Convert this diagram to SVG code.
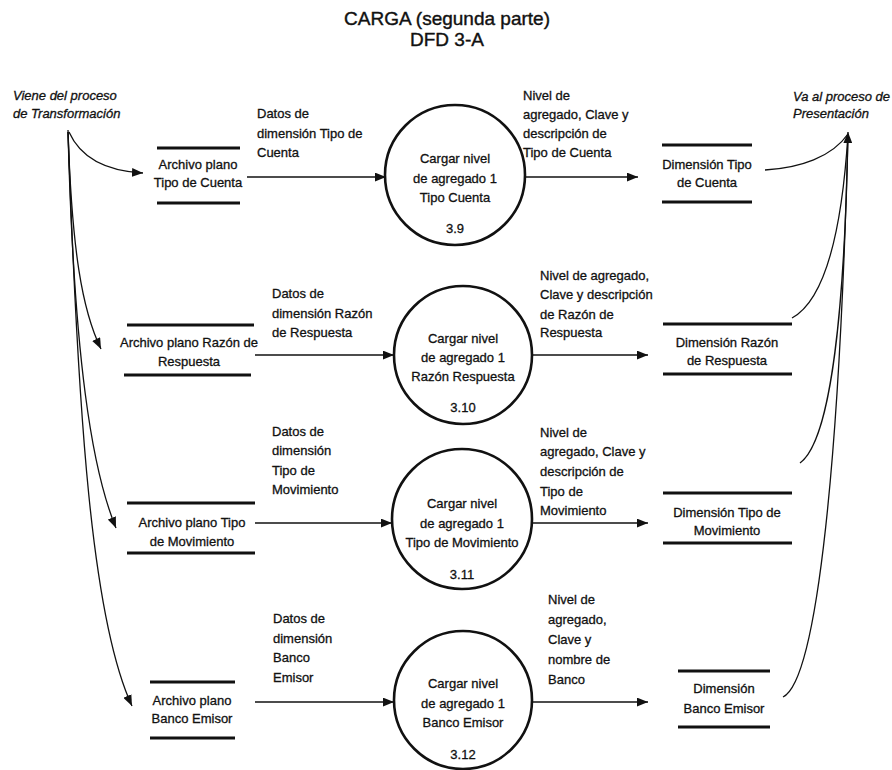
<svg xmlns="http://www.w3.org/2000/svg" width="892" height="770" viewBox="0 0 892 770">
  <style>
    text { font-family: "Liberation Sans", Arial, sans-serif; font-size: 13px; fill: #111; stroke: #111; stroke-width: 0.3; }
    .mid { text-anchor: middle; }
    .ext { font-style: italic; }
    .title { font-size: 19px; text-anchor: middle; stroke-width: 0.4; }
    .store line { stroke: #111; stroke-width: 2.8; }
    .proc circle { fill: none; stroke: #111; stroke-width: 2.6; }
    .flow path { fill: none; stroke: #111; stroke-width: 1.3; }
    .flow .arr { marker-end: url(#ah); }
  </style>
  <defs>
    <marker id="ah" viewBox="0 0 10 8" refX="10" refY="4" markerWidth="11" markerHeight="9" markerUnits="userSpaceOnUse" orient="auto">
      <path d="M0,0 L10,4 L0,8 z" fill="#111"/>
    </marker>
  </defs>
  <rect width="892" height="770" fill="#fff"/>

  <!-- title -->
  <g id="title">
    <text class="title" x="447" y="25">CARGA (segunda parte)</text>
    <text class="title" x="447" y="46">DFD 3-A</text>
  </g>

  <!-- external references -->
  <g id="ext-transformacion">
    <text class="ext" x="13" y="100">Viene del proceso</text>
    <text class="ext" x="13" y="118">de Transformación</text>
  </g>
  <g id="ext-presentacion">
    <text class="ext" x="793" y="101">Va al proceso de</text>
    <text class="ext" x="793" y="118">Presentación</text>
  </g>

  <!-- source flat files -->
  <g id="archivo-tipo-cuenta" class="store">
    <line x1="157" y1="148" x2="240" y2="148"/>
    <line x1="157" y1="203" x2="240" y2="203"/>
    <text class="mid" x="198" y="169">Archivo plano</text>
    <text class="mid" x="198" y="187">Tipo de Cuenta</text>
  </g>
  <g id="archivo-razon-respuesta" class="store">
    <line x1="127" y1="325" x2="254" y2="325"/>
    <line x1="124" y1="375" x2="251" y2="375"/>
    <text class="mid" x="189" y="347">Archivo plano Razón de</text>
    <text class="mid" x="189" y="366">Respuesta</text>
  </g>
  <g id="archivo-tipo-movimiento" class="store">
    <line x1="127" y1="503" x2="255" y2="503"/>
    <line x1="127" y1="553" x2="255" y2="553"/>
    <text class="mid" x="192" y="527">Archivo plano Tipo</text>
    <text class="mid" x="192" y="546">de Movimiento</text>
  </g>
  <g id="archivo-banco-emisor" class="store">
    <line x1="150" y1="682" x2="235" y2="682"/>
    <line x1="150" y1="738" x2="235" y2="738"/>
    <text class="mid" x="192" y="705">Archivo plano</text>
    <text class="mid" x="192" y="723">Banco Emisor</text>
  </g>

  <!-- processes -->
  <g id="p3-9" class="proc">
    <circle cx="455" cy="175" r="70"/>
    <text class="mid" x="455" y="163">Cargar nivel</text>
    <text class="mid" x="455" y="183">de agregado 1</text>
    <text class="mid" x="455" y="202">Tipo Cuenta</text>
    <text class="mid" x="455" y="233">3.9</text>
  </g>
  <g id="p3-10" class="proc">
    <circle cx="463" cy="355" r="69"/>
    <text class="mid" x="463" y="343">Cargar nivel</text>
    <text class="mid" x="463" y="362">de agregado 1</text>
    <text class="mid" x="463" y="381">Razón Respuesta</text>
    <text class="mid" x="463" y="412">3.10</text>
  </g>
  <g id="p3-11" class="proc">
    <circle cx="462" cy="519" r="70"/>
    <text class="mid" x="462" y="508">Cargar nivel</text>
    <text class="mid" x="462" y="528">de agregado 1</text>
    <text class="mid" x="462" y="547">Tipo de Movimiento</text>
    <text class="mid" x="462" y="579">3.11</text>
  </g>
  <g id="p3-12" class="proc">
    <circle cx="463" cy="700" r="69"/>
    <text class="mid" x="463" y="688">Cargar nivel</text>
    <text class="mid" x="463" y="708">de agregado 1</text>
    <text class="mid" x="463" y="727">Banco Emisor</text>
    <text class="mid" x="463" y="759">3.12</text>
  </g>

  <!-- dimension stores -->
  <g id="dim-tipo-cuenta" class="store">
    <line x1="662" y1="145" x2="752" y2="145"/>
    <line x1="662" y1="202" x2="752" y2="202"/>
    <text class="mid" x="707" y="169">Dimensión Tipo</text>
    <text class="mid" x="707" y="187">de Cuenta</text>
  </g>
  <g id="dim-razon-respuesta" class="store">
    <line x1="663" y1="324" x2="792" y2="324"/>
    <line x1="663" y1="374" x2="792" y2="374"/>
    <text class="mid" x="727" y="347">Dimensión Razón</text>
    <text class="mid" x="727" y="365">de Respuesta</text>
  </g>
  <g id="dim-tipo-movimiento" class="store">
    <line x1="663" y1="493" x2="792" y2="493"/>
    <line x1="663" y1="543" x2="792" y2="543"/>
    <text class="mid" x="727" y="517">Dimensión Tipo de</text>
    <text class="mid" x="727" y="535">Movimiento</text>
  </g>
  <g id="dim-banco-emisor" class="store">
    <line x1="678" y1="671" x2="770" y2="671"/>
    <line x1="678" y1="727" x2="770" y2="727"/>
    <text class="mid" x="724" y="693">Dimensión</text>
    <text class="mid" x="724" y="713">Banco Emisor</text>
  </g>

  <!-- data flows -->
  <g id="flows" class="flow">
    <!-- fan-out from Transformación -->
    <path class="arr" d="M69,132 Q 86,170 143,173"/>
    <path class="arr" d="M68,132 C 72,250 82,310 101,349"/>
    <path class="arr" d="M68,132 C 74,360 92,470 116,528"/>
    <path class="arr" d="M68,130 C 78,420 92,620 132,706"/>

    <!-- file -> process -->
    <path class="arr" d="M247,177 H386"/>
    <path class="arr" d="M255,355 H394"/>
    <path class="arr" d="M255,523 H392"/>
    <path class="arr" d="M255,702 H394"/>

    <!-- process -> dimension -->
    <path class="arr" d="M525,177 H638"/>
    <path class="arr" d="M532,355 H648"/>
    <path class="arr" d="M532,523 H648"/>
    <path class="arr" d="M532,702 H648"/>

    <!-- fan-in to Presentación -->
    <path d="M765,170 C 800,168 832,157 848,134"/>
    <path d="M792,318 C 825,300 842,230 848,134"/>
    <path class="arr" d="M800,463 C 832,440 845,300 848,132"/>
    <path d="M783,697 C 818,680 840,450 848,134"/>

    <!-- flow labels -->
    <text x="257" y="118">Datos de</text>
    <text x="257" y="138">dimensión Tipo de</text>
    <text x="257" y="157">Cuenta</text>

    <text x="523" y="100">Nivel de</text>
    <text x="523" y="119">agregado, Clave y</text>
    <text x="523" y="138">descripción de</text>
    <text x="523" y="157">Tipo de Cuenta</text>

    <text x="272" y="298">Datos de</text>
    <text x="272" y="318">dimensión Razón</text>
    <text x="272" y="337">de Respuesta</text>

    <text x="540" y="280">Nivel de agregado,</text>
    <text x="540" y="299">Clave y descripción</text>
    <text x="540" y="319">de Razón de</text>
    <text x="540" y="337">Respuesta</text>

    <text x="272" y="436">Datos de</text>
    <text x="272" y="455">dimensión</text>
    <text x="272" y="475">Tipo de</text>
    <text x="272" y="494">Movimiento</text>

    <text x="540" y="437">Nivel de</text>
    <text x="540" y="456">agregado, Clave y</text>
    <text x="540" y="476">descripción de</text>
    <text x="540" y="496">Tipo de</text>
    <text x="540" y="515">Movimiento</text>

    <text x="273" y="623">Datos de</text>
    <text x="273" y="643">dimensión</text>
    <text x="273" y="662">Banco</text>
    <text x="273" y="682">Emisor</text>

    <text x="548" y="604">Nivel de</text>
    <text x="548" y="624">agregado,</text>
    <text x="548" y="644">Clave y</text>
    <text x="548" y="664">nombre de</text>
    <text x="548" y="684">Banco</text>
  </g>
</svg>
